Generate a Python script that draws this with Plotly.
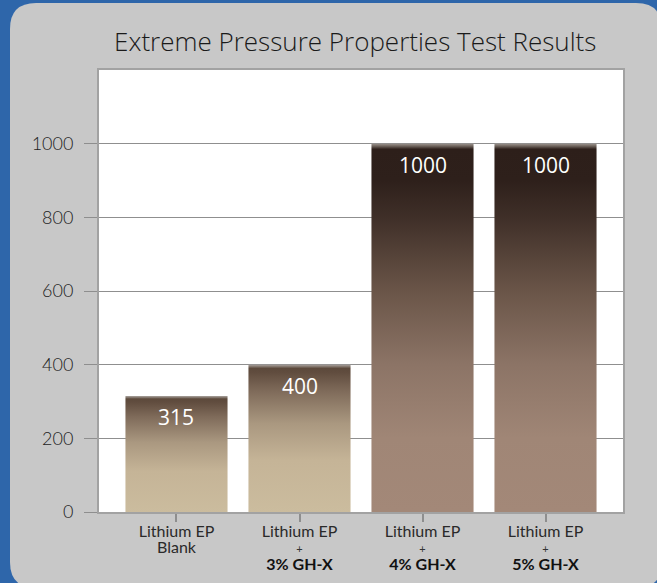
import plotly.graph_objects as go

# ---------------- data ----------------
categories = ["Lithium EP<br>Blank", "Lithium EP<br>+<br>3% GH-X",
              "Lithium EP<br>+<br>4% GH-X", "Lithium EP<br>+<br>5% GH-X"]
values = [315, 400, 1000, 1000]
value_labels = ["315", "400", "1000", "1000"]
y_ticks = [0, 200, 400, 600, 800, 1000]
title_text = "Extreme Pressure Properties Test Results"

# ---------------- layout constants ----------------
W, H = 657, 583
ML, MR, MT, MB = 99, 34, 70, 71
PW, PH = W - ML - MR, H - MT - MB
BAR_W = 0.83

light_scale = [[0.0, "#cbbc9e"], [0.35, "#c5b497"], [0.6, "#aa9880"],
               [0.82, "#7f6b5a"], [0.95, "#604c3e"], [0.975, "#5d4a3c"],
               [0.99, "#8d827a"], [1.0, "#aaa39e"]]
dark_scale = [[0.0, "#a38878"], [0.2, "#a08676"], [0.4, "#8c7466"],
              [0.6, "#6a5548"], [0.8, "#3f2f28"], [0.9, "#2e201b"],
              [0.985, "#2d1f1a"], [0.993, "#6c615a"], [1.0, "#9c948e"]]


def fmt_label(lbl):
    parts = lbl.split("<br>")
    out = []
    for p in parts:
        if p == "+":
            out.append("<span style='font-size:11px;color:#333'>+</span>")
        elif "GH-X" in p:
            out.append("<span style='font-size:16px;color:#111'><b>%s</b></span>" % p)
        else:
            out.append("<span style='font-size:16px;color:#2a2a2a'>%s</span>" % p)
    return "<br>".join(out)


fig = go.Figure()

for i, v in enumerate(values):
    x0, x1 = i - BAR_W / 2, i + BAR_W / 2
    scale = dark_scale if v >= 1000 else light_scale
    fig.add_trace(go.Scatter(
        x=[x0, x1, x1, x0, x0], y=[0, 0, v, v, 0],
        mode="lines", fill="toself", line=dict(width=0),
        fillgradient=dict(type="vertical", colorscale=scale),
        hoverinfo="skip", showlegend=False))
    fig.add_annotation(x=i, y=v, text=value_labels[i], showarrow=False,
                       yanchor="middle", yshift=-21,
                       font=dict(family="Open Sans", size=21, color="white"))


def px2paper(px, py):
    return (px - ML) / PW, (H - MB - py) / PH


def rounded_path(L, T, R, B, r):
    pts = [("M", [(L + r, T)]), ("L", [(R - r, T)]), ("Q", [(R, T), (R, T + r)]),
           ("L", [(R, B - r)]), ("Q", [(R, B), (R - r, B)]), ("L", [(L + r, B)]),
           ("Q", [(L, B), (L, B - r)]), ("L", [(L, T + r)]), ("Q", [(L, T), (L + r, T)])]
    s = ""
    for cmd, ps in pts:
        s += cmd + " " + " ".join("%.5f,%.5f" % px2paper(*p) for p in ps) + " "
    return s + "Z"


shapes = [
    dict(type="path", xref="paper", yref="paper", layer="below",
         path=rounded_path(10, 3, 662, 588, 26),
         fillcolor="#c8c8c8", line=dict(width=0)),
    dict(type="rect", xref="paper", yref="paper", layer="below",
         x0=0, x1=1, y0=0, y1=1, fillcolor="white", line=dict(width=0)),
]

fig.update_layout(
    width=W, height=H,
    margin=dict(l=ML, r=MR, t=MT, b=MB, autoexpand=False),
    paper_bgcolor="#2e66aa",
    plot_bgcolor="rgba(0,0,0,0)",
    shapes=shapes,
    showlegend=False,
    title=dict(text=title_text, xref="paper", x=0.489, xanchor="center",
               yref="container", y=1 - 42 / H, yanchor="middle",
               font=dict(family="Open Sans", size=26, color="#1a1a1a", weight=300)),
    font=dict(family="Lato", color="#222"),
)

fig.update_xaxes(
    automargin=False,
    range=[-0.63, 3.63], tickmode="array", tickvals=list(range(len(categories))),
    ticktext=[fmt_label(c) for c in categories],
    showgrid=False, zeroline=False,
    ticks="outside", ticklen=8, tickwidth=2, tickcolor="#8e8e8e",
    ticklabelstandoff=0,
    tickfont=dict(family="Lato", size=12.5, color="#222"),
    showline=True, mirror=True, linecolor="#a2a2a2", linewidth=2,
    fixedrange=True)

fig.update_yaxes(
    automargin=False,
    range=[0, 1200], tickmode="array", tickvals=y_ticks,
    showgrid=True, gridcolor="#8f8f8f", gridwidth=1.3, zeroline=False,
    ticks="outside", ticklen=13, tickwidth=1.3, tickcolor="#8e8e8e",
    ticklabelstandoff=7,
    tickfont=dict(family="Lato", size=18, color="#222", weight=300),
    showline=True, mirror=True, linecolor="#a2a2a2", linewidth=2,
    fixedrange=True)

fig.write_html("out.html", config={"displayModeBar": False},
               post_script="document.body.style.margin='0';document.body.style.overflow='hidden';")
